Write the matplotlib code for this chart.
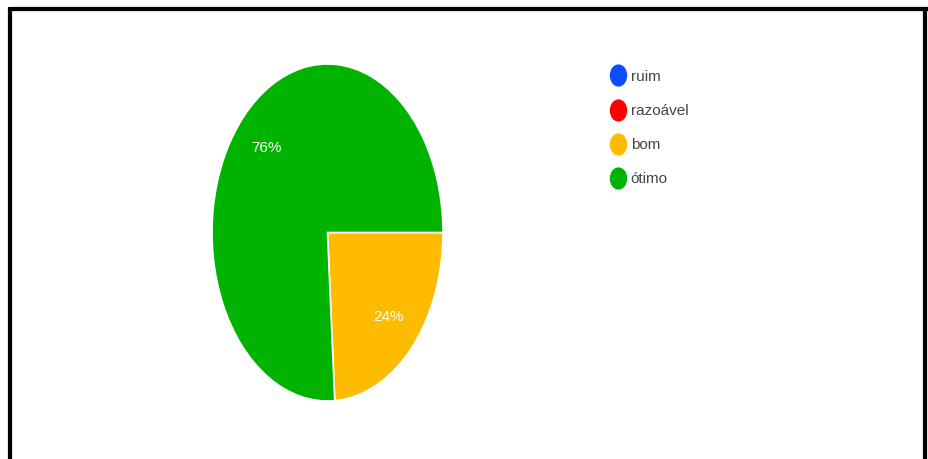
import matplotlib
matplotlib.use("Agg")
import matplotlib.pyplot as plt
from matplotlib.lines import Line2D
from matplotlib.path import Path
from matplotlib.transforms import Affine2D

categories = ["ruim", "razoável", "bom", "ótimo"]
values = [0, 0, 24, 76]
colors = ["#0b4dff", "#ff0000", "#ffbb00", "#00b300"]

W, H = 929, 459
fig = plt.figure(figsize=(W / 100, H / 100), dpi=100)
fig.patch.set_facecolor("white")

def px_rect(x0, y0, x1, y1):
    return [x0 / W, 1 - y1 / H, (x1 - x0) / W, (y1 - y0) / H]

# Pie axes, stretched vertically into an ellipse
ax = fig.add_axes(px_rect(212, 64, 443, 401))
total = sum(values)
shown = [(v, c) for v, c in zip(values, colors) if v > 0]
start = -360 * shown[0][0] / total
wedges, texts, autotexts = ax.pie(
    [v for v, _ in shown],
    colors=[c for _, c in shown],
    startangle=start,
    counterclock=True,
    autopct="%1.0f%%",
    pctdistance=0.73,
    radius=1,
    wedgeprops=dict(edgecolor="white", linewidth=1.2),
    textprops=dict(color="white", fontsize=11, family="Liberation Sans"),
)
ax.set_aspect("auto")
ax.set_xlim(-1, 1)
ax.set_ylim(-1, 1)
ax.axis("off")

# Legend with slightly tall elliptical markers
oval = Path.unit_circle().transformed(Affine2D().scale(1.0, 1.3))
handles = [
    Line2D([], [], linestyle="none", marker=oval, markersize=15,
           markerfacecolor=c, markeredgecolor=c)
    for c in colors
]
fig.legend(
    handles, categories,
    loc="upper left",
    bbox_to_anchor=(598 / W, 1 - 56 / H),
    frameon=False,
    handlelength=0.8,
    handletextpad=0.45,
    labelspacing=1.32,
    prop=dict(family="Liberation Sans", size=11),
    labelcolor="#444444",
)

# Black frame lines (top, left, right)
lw = 4.2 * 72 / 100
fig.add_artist(Line2D([10 / W, 1], [1 - 9 / H, 1 - 9 / H], color="black",
                      linewidth=lw, transform=fig.transFigure,
                      solid_capstyle="butt"))
fig.add_artist(Line2D([10 / W, 10 / W], [0, 1 - 7 / H], color="black",
                      linewidth=lw, transform=fig.transFigure,
                      solid_capstyle="butt"))
fig.add_artist(Line2D([925 / W, 925 / W], [0, 1 - 7 / H], color="black",
                      linewidth=lw, transform=fig.transFigure,
                      solid_capstyle="butt"))

fig.savefig("out.png", dpi=100, facecolor="white")
